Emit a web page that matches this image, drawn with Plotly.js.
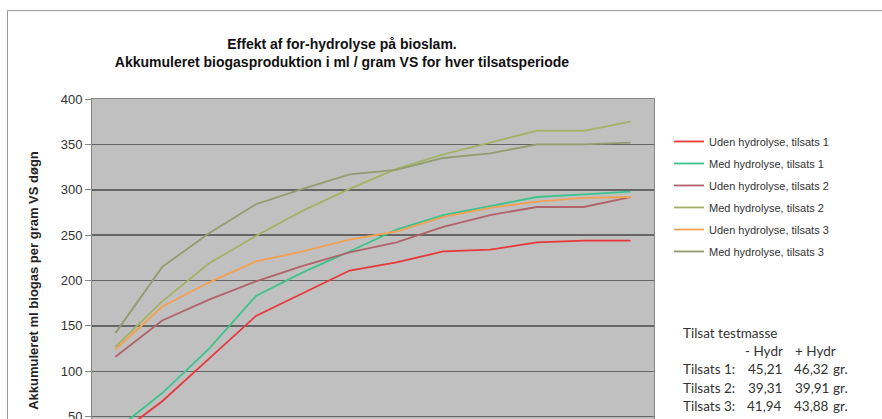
<!DOCTYPE html>
<html>
<head>
<meta charset="utf-8">
<script src="https://cdn.plot.ly/plotly-3.0.1.min.js"></script>
<style>
html,body{margin:0;padding:0;background:#fff;overflow:hidden;}
#chart{width:882px;height:520px;}
</style>
</head>
<body>
<div id="chart"></div>
<script>
// Categories (periods) – the x tick labels lie below the visible crop of the reference
const periods = [1,2,3,4,5,6,7,8,9,10,11,12];

const seriesNames = [
  "Uden hydrolyse, tilsats 1",
  "Med hydrolyse, tilsats 1",
  "Uden hydrolyse, tilsats 2",
  "Med hydrolyse, tilsats 2",
  "Uden hydrolyse, tilsats 3",
  "Med hydrolyse, tilsats 3"
];

const uden1 = [28, 67, 114, 161, 186, 211, 220, 232, 234, 242, 244, 244];
const med1  = [35, 76, 125, 183, 209, 232, 256, 272, 282, 292, 295, 298];
const uden2 = [116, 156, 179, 199, 216, 231, 242, 259, 272, 281, 281, 292];
const med2  = [127, 177, 219, 249, 277, 301, 323, 339, 352, 365, 365, 375];
const uden3 = [124, 171, 198, 221, 232, 245, 254, 270, 280, 287, 291, 292];
const med3  = [142, 215, 252, 284, 301, 317, 322, 335, 340, 350, 350, 352];

const yTicks = [50, 100, 150, 200, 250, 300, 350, 400];

// Side note: added test mass
const noteTitle = "Tilsat testmasse";
const colHeads = ["- Hydr", "+ Hydr"];
const rowLabels = ["Tilsats 1:", "Tilsats 2:", "Tilsats 3:"];
const massUden = ["45,21", "39,31", "41,94"];
const massMed  = ["46,32", "39,91", "43,88"];
const unit = "gr.";

const allValues = [uden1, med1, uden2, med2, uden3, med3];
const colors = ["#e8383c", "#3cc48c", "#b0636a", "#a3b266", "#f2a052", "#929c6e"];

const traces = allValues.map((vals, i) => ({
  type: "scatter",
  mode: "lines",
  x: periods,
  y: vals,
  name: seriesNames[i],
  legendgroup: "g" + i,
  line: {color: colors[i], width: 1.8},
  hoverinfo: "x+y+name"
}));

// layout geometry
const W = 882, H = 520;
const plotL = 92, plotR = 654, plotT = 99, plotB = 462.4;
const px = v => (v - plotL) / (plotR - plotL);
const py = v => (plotB - v) / (plotB - plotT);

const noteFont = {family: "Lato, 'Open Sans', sans-serif", size: 13.5, color: "#333"};
const annotations = [];
annotations.push({xref:"paper", yref:"paper", x:px(681), y:py(333), xanchor:"left", yanchor:"middle", text:noteTitle, showarrow:false, font:noteFont});
annotations.push({xref:"paper", yref:"paper", x:px(743), y:py(351), xanchor:"left", yanchor:"middle", text:colHeads[0], showarrow:false, font:noteFont});
annotations.push({xref:"paper", yref:"paper", x:px(793), y:py(351), xanchor:"left", yanchor:"middle", text:colHeads[1], showarrow:false, font:noteFont});
const rowY = [369, 388, 406];
rowLabels.forEach((lab, i) => {
  annotations.push({xref:"paper", yref:"paper", x:px(681), y:py(rowY[i]), xanchor:"left", yanchor:"middle", text:lab, showarrow:false, font:noteFont});
  annotations.push({xref:"paper", yref:"paper", x:px(784), y:py(rowY[i]), xanchor:"right", yanchor:"middle", text:massUden[i], showarrow:false, font:noteFont});
  annotations.push({xref:"paper", yref:"paper", x:px(831), y:py(rowY[i]), xanchor:"right", yanchor:"middle", text:massMed[i], showarrow:false, font:noteFont});
  annotations.push({xref:"paper", yref:"paper", x:px(831), y:py(rowY[i]), xanchor:"left", yanchor:"middle", text:unit, showarrow:false, font:noteFont});
});

const layout = {
  width: W, height: H,
  margin: {l: plotL, r: W - plotR, t: plotT, b: H - plotB},
  paper_bgcolor: "#ffffff",
  plot_bgcolor: "#c0c0c0",
  font: {family: "'Liberation Sans', Arial, sans-serif", color: "#333"},
  title: {
    text: "<b>Effekt af for-hydrolyse på bioslam.<br>Akkumuleret biogasproduktion i ml / gram VS for hver tilsatsperiode</b>",
    font: {family: "'Liberation Sans', Arial, sans-serif", size: 14, color: "#111"},
    x: 342 / W, xanchor: "center",
    y: 1 - 49 / H, yanchor: "top"
  },
  xaxis: {
    type: "category",
    range: [-0.5, periods.length - 0.5],
    showgrid: false,
    showline: true, mirror: true, linecolor: "#888", linewidth: 1,
    showticklabels: false,
    ticks: "", 
    zeroline: false
  },
  yaxis: {
    range: [0, 400],
    tickvals: yTicks,
    showgrid: true, gridcolor: "#666666", gridwidth: 1.5,
    showline: true, mirror: true, linecolor: "#888", linewidth: 1,
    ticks: "outside", ticklen: 6, tickcolor: "#888",
    tickfont: {size: 13, color: "#333"},
    zeroline: false,
    title: {text: "<b>Akkumuleret ml biogas per gram VS døgn</b>", font: {size: 13, color: "#222"}, standoff: 19}
  },
  legend: {
    x: px(669), y: py(127), xanchor: "left", yanchor: "top",
    font: {size: 11, color: "#333"},
    bgcolor: "rgba(0,0,0,0)",
    tracegroupgap: 3,
    itemwidth: 30
  },
  showlegend: true,
  annotations: annotations,
  shapes: [{
    type: "rect", xref: "paper", yref: "paper",
    x0: px(7.5), x1: 1.6, y0: -0.5, y1: py(10.5),
    line: {color: "#999", width: 1}, layer: "below"
  }]
};

Plotly.newPlot("chart", traces, layout, {displayModeBar: false, staticPlot: true});
</script>
</body>
</html>
